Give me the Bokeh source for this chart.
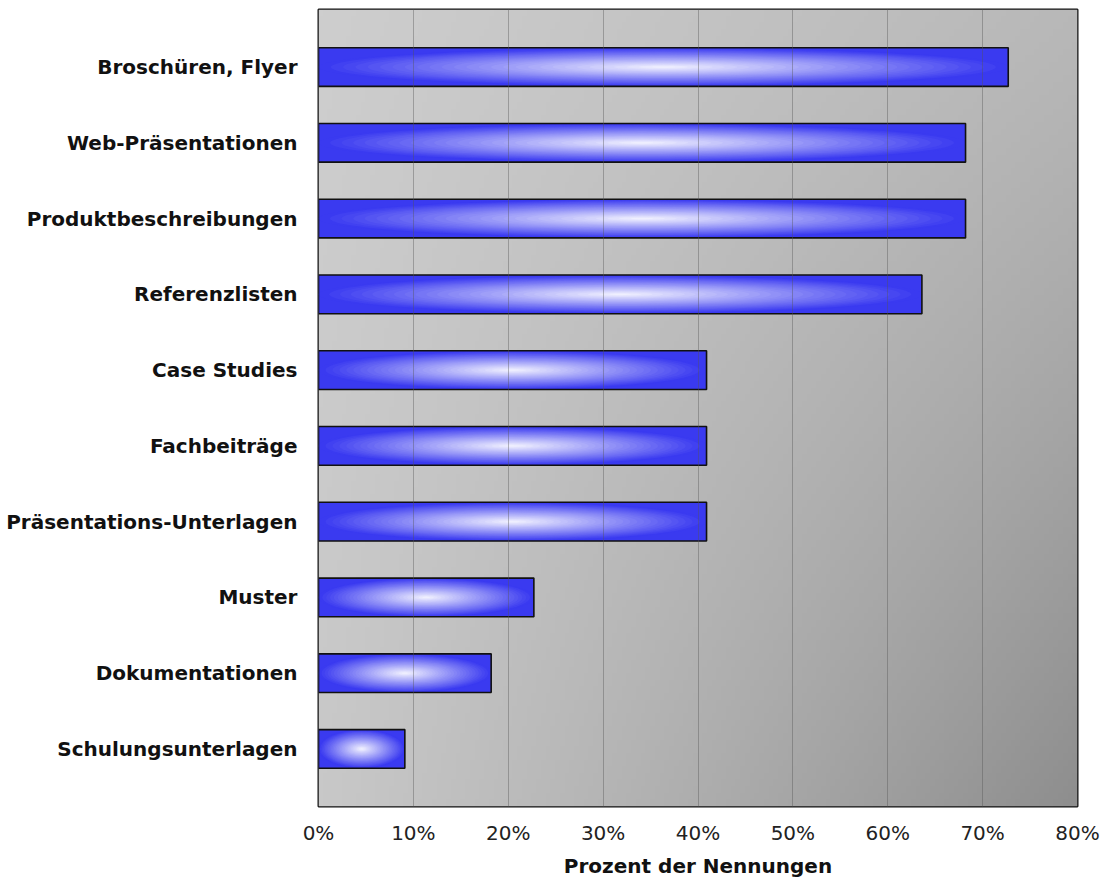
import numpy as np
from bokeh.plotting import figure
from bokeh.models import FixedTicker, Range1d
from bokeh.embed import file_html
from bokeh.resources import INLINE

# Data (top to bottom in the reference)
categories = ["Broschüren, Flyer", "Web-Präsentationen", "Produktbeschreibungen",
              "Referenzlisten", "Case Studies", "Fachbeiträge",
              "Präsentations-Unterlagen", "Muster", "Dokumentationen",
              "Schulungsunterlagen"]
percent = [72.7, 68.2, 68.2, 63.6, 40.9, 40.9, 40.9, 22.7, 18.2, 9.1]
x_ticks = [0, 10, 20, 30, 40, 50, 60, 70, 80]
x_tick_labels = ["0%", "10%", "20%", "30%", "40%", "50%", "60%", "70%", "80%"]

n = len(categories)
ypos = [n - 1 - i for i in range(n)]  # top category at the top
BAR_H = 0.51
FONT = "DejaVu Sans"

p = figure(width=1112, height=886, output_backend="svg", toolbar_location=None,
           x_range=Range1d(0, 80), y_range=Range1d(-0.76, n - 1 + 0.76),
           min_border_left=318, min_border_right=35, min_border_top=9,
           min_border_bottom=80)
p.background_fill_color = "white"
p.border_fill_color = "white"
p.outline_line_color = "#111111"
p.outline_line_width = 2

# background gradient of the plotting area
H, W = 120, 160
u = np.linspace(0, 1, W)[None, :]
v = np.linspace(0, 1, H)[:, None]   # 0 = bottom row of the image
down = 1 - v                         # 0 at top, 1 at bottom
g = 206 - 22 * u - 6 * down - 36 * (u * down) ** 1.2
img = np.zeros((H, W), dtype=np.uint32)
view = img.view(dtype=np.uint8).reshape((H, W, 4))
gg = np.clip(g, 0, 255).astype(np.uint8)
view[:, :, 0] = gg
view[:, :, 1] = gg
view[:, :, 2] = gg
view[:, :, 3] = 255
y0 = p.y_range.start
p.image_rgba(image=[img], x=0, y=y0, dw=80, dh=p.y_range.end - y0, level="image")

# bars: base fill
blue = np.array([58, 58, 240])
white = np.array([246, 246, 255])
p.hbar(y=ypos, right=percent, left=0, height=BAR_H,
       fill_color="#3a3af0", line_color=None)

# radial glow via nested ellipses
N = 28
for k in range(N):
    s = 1 - k / N
    t = (1 - s) ** 1.0
    c = blue + (white - blue) * t
    col = "#%02x%02x%02x" % tuple(int(round(x)) for x in c)
    p.ellipse(x=[val / 2 for val in percent], y=ypos,
              width=[val * s for val in percent], height=BAR_H * s,
              fill_color=col, line_color=None)

# bar outlines
p.hbar(y=ypos, right=percent, left=0, height=BAR_H,
       fill_color=None, line_color="#111111", line_width=1.6)

# grid
p.ygrid.grid_line_color = None
p.xgrid.ticker = FixedTicker(ticks=x_ticks[1:-1])
p.xgrid.grid_line_color = "#555555"
p.xgrid.grid_line_alpha = 0.4
p.xgrid.grid_line_width = 1
p.xgrid.level = "overlay"

# x axis
p.xaxis.ticker = FixedTicker(ticks=x_ticks)
p.xaxis.major_label_overrides = {t: l for t, l in zip(x_ticks, x_tick_labels)}
p.xaxis.axis_line_color = None
p.xaxis.major_tick_line_color = None
p.xaxis.minor_tick_line_color = None
p.xaxis.major_label_standoff = 8
p.xaxis.major_label_text_font = FONT
p.xaxis.major_label_text_font_size = "20px"
p.xaxis.major_label_text_color = "#222222"
p.xaxis.axis_label = "Prozent der Nennungen"
p.xaxis.axis_label_text_font = FONT
p.xaxis.axis_label_text_font_style = "bold"
p.xaxis.axis_label_text_font_size = "20px"
p.xaxis.axis_label_text_color = "#111111"
p.xaxis.axis_label_standoff = 6

# y axis
p.yaxis.ticker = FixedTicker(ticks=ypos)
p.yaxis.major_label_overrides = {y: c for y, c in zip(ypos, categories)}
p.yaxis.axis_line_color = None
p.yaxis.major_tick_line_color = None
p.yaxis.minor_tick_line_color = None
p.yaxis.major_label_standoff = 15
p.yaxis.major_label_text_font = FONT
p.yaxis.major_label_text_font_style = "bold"
p.yaxis.major_label_text_font_size = "20px"
p.yaxis.major_label_text_color = "#111111"

open("out.html", "w").write(file_html(p, INLINE))
